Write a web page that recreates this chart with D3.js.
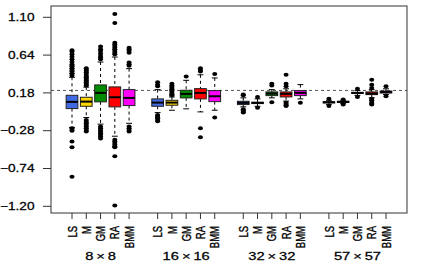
<!DOCTYPE html>
<html>

<head>
    <meta http-equiv="Content-Type" content="text/html;charset=utf-8">
    <title>Boxplots by method and grid size</title>
    <script type="text/javascript" src="https://d3js.org/d3.v7.min.js"></script>
    <style>
        * {
            margin: 0;
            padding: 0;
            box-sizing: border-box;
        }
        html,
        body {
            width: 422px;
            height: 273px;
            background: #fff;
            overflow: hidden;
        }
        text {
            font-family: "Liberation Sans", Arial, Helvetica, sans-serif;
            fill: #000;
            stroke: #000;
            stroke-width: 0.25px;
        }
        .whisker {
            stroke: #000;
            stroke-width: 1px;
            stroke-dasharray: 3, 3;
        }
        .cap {
            stroke: #000;
            stroke-width: 1px;
        }
        .box {
            stroke: #222;
            stroke-width: 1px;
        }
        .median {
            stroke: #000;
            stroke-width: 2px;
        }
    </style>
</head>

<body>
    <script type="text/javascript">
        // grid sizes and methods
        var sizes = [8, 16, 32, 57];
        var methods = ["LS", "M", "GM", "RA", "BMM"];
        var colors = ["#4169E1", "#FFD700", "#008B00", "#FF0000", "#FF00FF"];
        var yTicks = [-1.20, -0.74, -0.28, 0.18, 0.64, 1.10];
        var refValue = 0.21;

        // box statistics, order: size group then method
        var q1 = [-0.011, 0.017, 0.071, 0.010, 0.026, 0.017, 0.030, 0.119, 0.107, 0.074,
            0.038, 0.050, 0.147, 0.131, 0.147, 0.058, 0.064, 0.174, 0.159, 0.178];
        var medians = [0.071, 0.074, 0.180, 0.127, 0.119, 0.062, 0.062, 0.168, 0.180, 0.139,
            0.059, 0.059, 0.172, 0.168, 0.180, 0.066, 0.071, 0.180, 0.172, 0.192];
        var q3 = [0.151, 0.127, 0.277, 0.253, 0.220, 0.107, 0.090, 0.212, 0.232, 0.208,
            0.078, 0.066, 0.192, 0.192, 0.208, 0.072, 0.078, 0.186, 0.192, 0.202];
        var whiskerLow = [-0.24, -0.12, -0.20, -0.347, -0.19, -0.06, -0.031, -0.014, -0.051, -0.031,
            0.01, 0.017, 0.12, 0.08, 0.107, 0.04, 0.05, 0.15, 0.12, 0.16];
        var whiskerHigh = [0.37, 0.25, 0.556, 0.617, 0.475, 0.22, 0.13, 0.333, 0.40, 0.362,
            0.12, 0.107, 0.22, 0.23, 0.281, 0.09, 0.09, 0.21, 0.22, 0.23];
        var outliers = [
            [0.39, 0.41, 0.42, 0.44, 0.45, 0.47, 0.48, 0.50, 0.51, 0.53, 0.56, 0.59, 0.62, 0.65, 0.68, 0.70, -0.25, -0.27, -0.28, -0.41, -0.48, -0.84],
            [0.27, 0.28, 0.30, 0.31, 0.33, 0.34, 0.36, 0.37, 0.39, 0.41, 0.43, 0.45, 0.46, 0.48, -0.15, -0.17, -0.19, -0.21, -0.23, -0.25, -0.27, -0.29],
            [0.59, 0.61, 0.63, 0.66, 0.69, 0.71, 0.745, -0.23, -0.25, -0.27, -0.29, -0.31, -0.33, -0.35, -0.375],
            [0.65, 0.67, 0.69, 0.71, 0.73, 0.75, 0.77, 0.79, 1.03, 1.14, -0.39, -0.41, -0.43, -0.45, -0.47, -0.48, -0.59, -1.19],
            [0.51, 0.53, 0.55, 0.67, 0.69, 0.71, 0.73, -0.23, -0.25, -0.27, -0.29],
            [0.26, 0.28, 0.31, -0.09, -0.10, -0.12, -0.13, -0.15, -0.165],
            [0.15, 0.165, 0.18, 0.195, 0.21, 0.225, 0.24, 0.255, 0.27, 0.29],
            [0.38],
            [0.44, 0.46, 0.48, -0.25, -0.36],
            [0.41, -0.12],
            [0.15, 0.16, -0.02, -0.035, -0.05, -0.06],
            [0.13, 0.00],
            [0.27, 0.29, 0.066],
            [0.26, 0.29, 0.40, 0.06, 0.045, 0.03, 0.02],
            [0.059],
            [0.11, 0.02],
            [0.10, 0.04],
            [0.23, 0.13],
            [0.34, 0.28, 0.24, 0.11, 0.09, 0.07, 0.05, 0.04],
            [0.26, 0.14]
        ];

        var width = 422, height = 273;
        var plot = { left: 51, right: 407, top: 6, bottom: 213 };
        var stretch = 1.4; // glyphs in the source are wider than tall
        var yStretch = 1.3;

        var boxes = [];
        sizes.forEach(function (s, g) {
            methods.forEach(function (m, i) {
                var k = g * methods.length + i;
                boxes.push({
                    pos: g * 6 + i + 1, method: m, color: colors[i],
                    q1: q1[k], med: medians[k], q3: q3[k],
                    lo: whiskerLow[k], hi: whiskerHigh[k], out: outliers[k]
                });
            });
        });

        var x = d3.scaleLinear().domain([1, 23]).range([72, 386]);
        var y = d3.scaleLinear().domain([-1.20, 1.10]).range([206.3, 17.3]);
        var boxW = (x(2) - x(1)) * 0.82;
        var capW = boxW / 2;

        var svg = d3.select("body").append("svg")
            .attr("width", width).attr("height", height);

        // reference line
        svg.append("line")
            .attr("x1", plot.left).attr("x2", plot.right)
            .attr("y1", y(refValue)).attr("y2", y(refValue))
            .attr("stroke", "#555").attr("stroke-width", 1)
            .attr("stroke-dasharray", "3,3");

        var bg = svg.append("g").selectAll("g").data(boxes).enter().append("g");

        bg.append("line").attr("class", "whisker")
            .attr("x1", function (d) { return x(d.pos); }).attr("x2", function (d) { return x(d.pos); })
            .attr("y1", function (d) { return y(d.hi); }).attr("y2", function (d) { return y(d.q3); });
        bg.append("line").attr("class", "whisker")
            .attr("x1", function (d) { return x(d.pos); }).attr("x2", function (d) { return x(d.pos); })
            .attr("y1", function (d) { return y(d.q1); }).attr("y2", function (d) { return y(d.lo); });
        bg.append("line").attr("class", "cap")
            .attr("x1", function (d) { return x(d.pos) - capW / 2; }).attr("x2", function (d) { return x(d.pos) + capW / 2; })
            .attr("y1", function (d) { return y(d.hi); }).attr("y2", function (d) { return y(d.hi); });
        bg.append("line").attr("class", "cap")
            .attr("x1", function (d) { return x(d.pos) - capW / 2; }).attr("x2", function (d) { return x(d.pos) + capW / 2; })
            .attr("y1", function (d) { return y(d.lo); }).attr("y2", function (d) { return y(d.lo); });

        bg.append("rect").attr("class", "box")
            .attr("x", function (d) { return x(d.pos) - boxW / 2; })
            .attr("width", boxW)
            .attr("y", function (d) { return y(d.q3); })
            .attr("height", function (d) { return Math.max(y(d.q1) - y(d.q3), 1); })
            .attr("fill", function (d) { return d.color; });

        bg.append("line").attr("class", "median")
            .attr("x1", function (d) { return x(d.pos) - boxW / 2; }).attr("x2", function (d) { return x(d.pos) + boxW / 2; })
            .attr("y1", function (d) { return y(d.med); }).attr("y2", function (d) { return y(d.med); });

        bg.selectAll("ellipse").data(function (d) { return d.out.map(function (v) { return { pos: d.pos, v: v }; }); })
            .enter().append("ellipse")
            .attr("cx", function (d) { return x(d.pos); })
            .attr("cy", function (d) { return y(d.v); })
            .attr("rx", 2.5).attr("ry", 2)
            .attr("fill", "#000");

        // frame
        svg.append("rect")
            .attr("x", plot.left).attr("y", plot.top)
            .attr("width", plot.right - plot.left).attr("height", plot.bottom - plot.top)
            .attr("fill", "none").attr("stroke", "#333").attr("stroke-width", 1);

        // y axis
        var yg = svg.append("g");
        yg.selectAll("line").data(yTicks).enter().append("line")
            .attr("x1", plot.left - 8).attr("x2", plot.left)
            .attr("y1", function (d) { return y(d); }).attr("y2", function (d) { return y(d); })
            .attr("stroke", "#333");
        yg.selectAll("text").data(yTicks).enter().append("text")
            .attr("transform", function (d) { return "translate(34.5," + y(d) + ") scale(" + yStretch + ",1)"; })
            .attr("text-anchor", "end").attr("dy", "0.36em")
            .style("font-size", "10.5px")
            .text(function (d) { return d3.format(".2f")(d); });

        // x axis
        var xg = svg.append("g");
        xg.selectAll("line").data(boxes).enter().append("line")
            .attr("x1", function (d) { return x(d.pos); }).attr("x2", function (d) { return x(d.pos); })
            .attr("y1", plot.bottom).attr("y2", plot.bottom + 6)
            .attr("stroke", "#333");
        xg.selectAll("text").data(boxes).enter().append("text")
            .attr("transform", function (d) { return "translate(" + x(d.pos) + ",226) scale(" + stretch + ",1) rotate(-90)"; })
            .attr("text-anchor", "end").attr("dy", "0.35em")
            .style("font-size", "9.5px")
            .text(function (d) { return d.method; });

        svg.append("g").selectAll("text").data(sizes).enter().append("text")
            .attr("transform", function (d, g) { return "translate(" + x(g * 6 + 3) + ",260) scale(" + stretch + ",1)"; })
            .attr("text-anchor", "middle")
            .style("font-size", "10.5px")
            .text(function (d) { return d + "\u2009\u00d7\u2009" + d; });
    </script>
</body>

</html>
